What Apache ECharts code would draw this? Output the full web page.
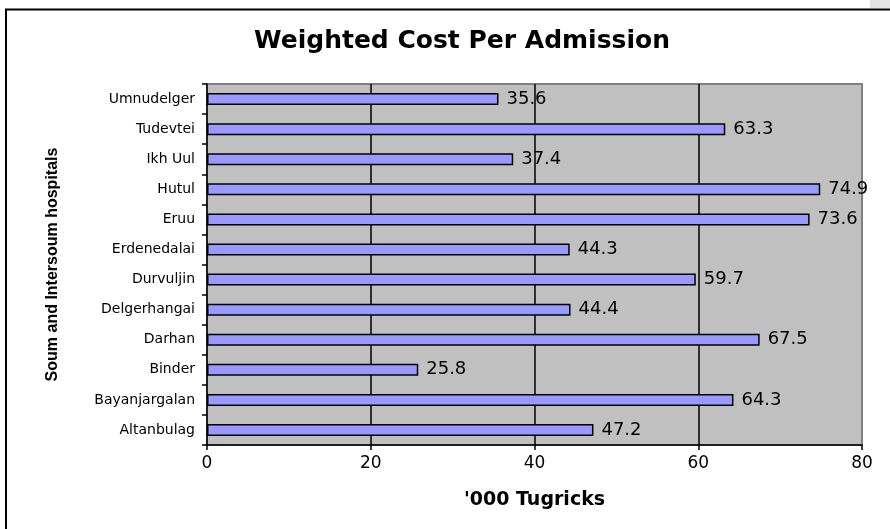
<!DOCTYPE html>
<html>
<head>
<meta charset="utf-8">
<script src="https://cdn.jsdelivr.net/npm/echarts@6/dist/echarts.min.js"></script>
<style>
html,body{margin:0;padding:0;background:#fff;}
#chart{width:890px;height:529px;}
</style>
</head>
<body>
<div id="chart"></div>
<script>
var categories = ['Altanbulag','Bayanjargalan','Binder','Darhan','Delgerhangai','Durvuljin','Erdenedalai','Eruu','Hutul','Ikh Uul','Tudevtei','Umnudelger'];
var costValues = [47.2, 64.3, 25.8, 67.5, 44.4, 59.7, 44.3, 73.6, 74.9, 37.4, 63.3, 35.6];
var xTicks = [0, 20, 40, 60, 80];

var chart = echarts.init(document.getElementById('chart'));
chart.setOption({
  backgroundColor: '#ffffff',
  animation: false,
  title: {
    text: 'Weighted Cost Per Admission',
    left: 457,
    top: 24,
    textAlign: 'center',
    textStyle: { fontFamily: 'DejaVu Sans', fontWeight: 'bold', fontSize: 25, color: '#000' }
  },
  graphic: [
    { type: 'polyline', silent: true, shape: { points: [[6, 529], [6, 9.5], [890, 9.5]] }, style: { stroke: '#000', lineWidth: 2, fill: null } },
    { type: 'rect', silent: true, shape: { x: 870, y: 0, width: 20, height: 8 }, style: { fill: '#e4e4e4' } }
  ],
  grid: {
    left: 207, right: 28, top: 84, bottom: 84,
    show: true, backgroundColor: '#C0C0C0', borderColor: '#808080', borderWidth: 2,
    containLabel: false
  },
  xAxis: {
    type: 'value', min: 0, max: 80, interval: 20,
    name: "'000 Tugricks", nameLocation: 'middle', nameGap: 46,
    nameTextStyle: { fontFamily: 'DejaVu Sans', fontWeight: 'bold', fontSize: 19, color: '#000' },
    axisLine: { show: true, lineStyle: { color: '#000', width: 1.5 } },
    axisTick: { show: true, length: 5, lineStyle: { color: '#000', width: 1.5 } },
    axisLabel: { margin: 10, fontFamily: 'DejaVu Sans', fontSize: 17, color: '#000',
      formatter: function (v) { return xTicks.indexOf(v) >= 0 ? String(v) : ''; } },
    splitLine: { show: true, showMinLine: false, showMaxLine: false, lineStyle: { color: '#000', width: 1.5 } }
  },
  yAxis: {
    type: 'category', data: categories,
    name: 'Soum and Intersoum hospitals', nameLocation: 'middle', nameRotate: 90, nameGap: 146,
    nameTextStyle: { fontFamily: 'Liberation Sans', fontWeight: 'bold', fontSize: 16, color: '#000' },
    axisLine: { show: true, lineStyle: { color: '#000', width: 1.5 } },
    axisTick: { show: true, length: 5, lineStyle: { color: '#000', width: 1.5 } },
    axisLabel: { margin: 12, fontFamily: 'DejaVu Sans', fontSize: 14, color: '#000' },
    splitLine: { show: false }
  },
  series: [{
    type: 'bar',
    data: costValues,
    barWidth: 12,
    itemStyle: { color: '#9999FF', borderColor: '#000', borderWidth: 1.5 },
    label: { show: true, position: 'right', distance: 8, fontFamily: 'DejaVu Sans', fontSize: 18, color: '#000' }
  }]
});
</script>
</body>
</html>
